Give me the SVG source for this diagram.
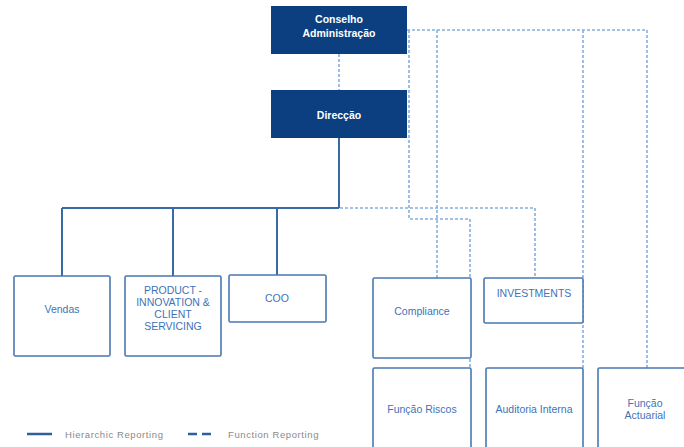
<svg xmlns="http://www.w3.org/2000/svg" width="684" height="447" viewBox="0 0 684 447">
<style>
.dark{fill:#0b3f7f;stroke:none}
.box{fill:#ffffff;stroke:#4a78b0;stroke-width:1.6}
.wt{font-family:"Liberation Sans",Arial,sans-serif;font-size:10.5px;font-weight:bold;fill:#ffffff;text-anchor:middle;dominant-baseline:central}
.bt{font-family:"Liberation Sans",Arial,sans-serif;font-size:10.5px;fill:#3f72b8;text-anchor:middle;dominant-baseline:central}
.solid{fill:none;stroke:#3a6aa5;stroke-width:2}
.dash{fill:none;stroke:#86aedb;stroke-width:1.6;stroke-dasharray:3 2}
.lg{font-family:"Liberation Sans",Arial,sans-serif;font-size:9.5px;fill:#8a8a8a;dominant-baseline:central;letter-spacing:0.6px}
</style>
<rect width="684" height="447" fill="#ffffff"/>
<g id="connectors">
<path class="solid" d="M339 138 V208 M62 208 H339 M62 208 V276 M173 208 V276 M277 208 V275"/>
<path class="dash" d="M339 54 V90"/>
<path class="dash" d="M407 30 H647"/>
<path class="dash" d="M437 30 V278"/>
<path class="dash" d="M583 30 V368"/>
<path class="dash" d="M647 30 V368"/>
<path class="dash" d="M409 30 V219 H470 V368"/>
<path class="dash" d="M340 208 H535 V278"/>
</g>
<g id="conselho">
<rect class="dark" x="271" y="6" width="136" height="48"/>
<text class="wt" x="339" y="19">Conselho</text>
<text class="wt" x="339" y="33">Administração</text>
</g>
<g id="direccao">
<rect class="dark" x="271" y="90" width="136" height="48"/>
<text class="wt" x="339" y="115">Direcção</text>
</g>
<g id="vendas">
<rect class="box" x="14" y="276" width="96" height="80" rx="1.5"/>
<text class="bt" x="62" y="309">Vendas</text>
</g>
<g id="product">
<rect class="box" x="125" y="276" width="96" height="80" rx="1.5"/>
<text class="bt" x="173" y="290">PRODUCT -</text>
<text class="bt" x="173" y="302">INNOVATION &amp;</text>
<text class="bt" x="173" y="314">CLIENT</text>
<text class="bt" x="173" y="326">SERVICING</text>
</g>
<g id="coo">
<rect class="box" x="229" y="275" width="97" height="47" rx="1.5"/>
<text class="bt" x="277" y="298">COO</text>
</g>
<g id="compliance">
<rect class="box" x="373" y="278" width="98" height="80" rx="1.5"/>
<text class="bt" x="422" y="311">Compliance</text>
</g>
<g id="investments">
<rect class="box" x="484" y="278" width="99" height="45" rx="1.5"/>
<text class="bt" x="534" y="293">INVESTMENTS</text>
</g>
<g id="riscos">
<rect class="box" x="373" y="368" width="98" height="90" rx="1.5"/>
<text class="bt" x="422" y="409">Função Riscos</text>
</g>
<g id="auditoria">
<rect class="box" x="486" y="368" width="97" height="90" rx="1.5"/>
<text class="bt" x="534" y="409">Auditoria Interna</text>
</g>
<g id="actuarial">
<rect class="box" x="598" y="368" width="96" height="90" rx="1.5"/>
<text class="bt" x="645" y="403">Função</text>
<text class="bt" x="645" y="415">Actuarial</text>
</g>
<g id="legend">
<line x1="27" y1="434" x2="52" y2="434" stroke="#2f5f9e" stroke-width="2.5"/>
<text class="lg" x="65" y="434">Hierarchic Reporting</text>
<line x1="188" y1="434" x2="213" y2="434" stroke="#2f5f9e" stroke-width="2.5" stroke-dasharray="9 5"/>
<text class="lg" x="228" y="434">Function Reporting</text>
</g>
</svg>
